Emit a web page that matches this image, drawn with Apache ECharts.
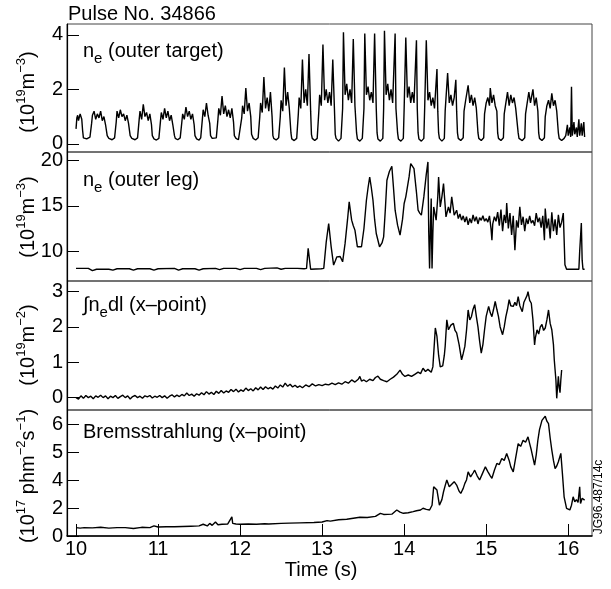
<!DOCTYPE html>
<html>
<head>
<meta charset="utf-8">
<script src="https://cdn.jsdelivr.net/npm/echarts@6/dist/echarts.min.js"></script>
<style>html,body{margin:0;padding:0;background:#fff}#c{width:611px;height:589px}</style>
</head>
<body>
<div id="c"></div>
<script>
// ---------- data (time in s, value in axis units) ----------
const timeTicks = [10, 11, 12, 13, 14, 15, 16];
const outerTargetTicks = [0, 2, 4];
const outerLegTicks = [10, 15, 20];
const xpointDensityTicks = [0, 1, 2, 3];
const bremsTickPositions = [0, 1, 2, 3, 4];
const bremsTickLabels = ['0', '2', '4', '5', '6'];

const outerTarget = [
[10.00,0.55],[10.01,0.95],[10.02,1.05],[10.03,0.85],[10.05,1.1],[10.07,0.9],[10.08,0.5],
[10.09,0.22],[10.13,0.18],[10.17,0.25],
[10.19,0.75],[10.20,1.05],[10.22,1.2],[10.24,0.9],[10.26,1.1],[10.28,0.95],[10.30,1.2],[10.32,0.85],[10.34,1.0],[10.36,0.7],[10.38,0.3],
[10.40,0.2],[10.44,0.15],[10.47,0.22],
[10.49,0.8],[10.50,1.2],[10.52,0.95],[10.54,1.25],[10.56,1.0],[10.58,1.1],[10.60,0.85],[10.62,1.05],[10.64,0.75],[10.66,0.3],
[10.68,0.2],[10.72,0.15],[10.75,0.22],
[10.77,0.9],[10.78,1.2],[10.80,0.9],[10.82,1.45],[10.84,1.0],[10.86,1.15],[10.88,0.85],[10.90,1.1],[10.92,0.7],[10.93,0.3],
[10.95,0.18],[10.98,0.14],[11.01,0.2],
[11.03,0.85],[11.04,1.15],[11.06,0.9],[11.08,1.3],[11.10,0.95],[11.12,1.2],[11.14,0.85],[11.16,1.05],[11.18,0.7],[11.20,0.3],
[11.21,0.2],[11.24,0.15],[11.27,0.22],
[11.29,0.8],[11.30,1.1],[11.32,0.9],[11.34,1.35],[11.36,1.0],[11.38,1.2],[11.40,0.9],[11.42,1.1],[11.44,0.7],[11.45,0.3],
[11.47,0.18],[11.50,0.14],[11.52,0.22],
[11.54,0.9],[11.55,1.25],[11.57,1.0],[11.59,1.5],[11.61,1.05],[11.63,0.75],[11.64,0.3],
[11.66,0.2],[11.68,0.15],[11.71,0.22],
[11.73,0.9],[11.74,1.3],[11.76,1.05],[11.78,1.75],[11.80,1.1],[11.82,1.4],[11.84,1.0],[11.86,1.25],[11.88,0.95],[11.90,1.3],[11.92,0.8],[11.93,0.3],
[11.95,0.2],[11.98,0.15],[12.00,0.22],
[12.02,0.95],[12.03,1.4],[12.05,1.1],[12.07,2.05],[12.09,1.2],[12.11,1.5],[12.13,1.0],[12.14,0.35],
[12.16,0.2],[12.19,0.14],[12.22,0.22],
[12.24,1.0],[12.25,1.5],[12.27,1.15],[12.29,2.45],[12.31,1.3],[12.33,1.7],[12.35,1.2],[12.37,1.9],[12.39,1.0],[12.40,0.3],
[12.41,0.2],[12.44,0.14],[12.47,0.22],
[12.49,1.0],[12.50,1.6],[12.52,1.2],[12.54,2.8],[12.56,1.4],[12.58,1.9],[12.60,1.3],[12.62,0.4],
[12.63,0.18],[12.66,0.12],[12.69,0.2],
[12.71,1.1],[12.72,1.7],[12.74,1.3],[12.76,3.1],[12.78,1.5],[12.80,2.0],[12.82,1.4],[12.84,3.3],[12.86,1.2],[12.87,0.35],
[12.88,0.2],[12.91,0.12],[12.94,0.2],
[12.96,1.2],[12.97,1.8],[12.99,1.4],[13.01,3.65],[13.03,1.6],[13.05,2.0],[13.07,1.5],[13.09,1.9],[13.11,1.4],[13.13,3.1],[13.15,1.3],[13.16,0.35],
[13.17,0.2],[13.20,0.1],[13.23,0.2],
[13.25,1.3],[13.26,4.1],[13.28,1.8],[13.30,2.2],[13.32,1.6],[13.34,2.0],[13.36,1.5],[13.38,3.85],[13.40,1.4],[13.42,0.4],
[13.43,0.18],[13.46,0.1],[13.49,0.2],
[13.51,1.3],[13.52,4.05],[13.54,1.8],[13.56,2.1],[13.58,1.6],[13.60,1.9],[13.62,1.5],[13.64,4.05],[13.66,1.3],[13.67,0.4],
[13.68,0.18],[13.71,0.1],[13.74,0.2],
[13.75,1.3],[13.76,4.15],[13.78,1.8],[13.80,2.2],[13.82,1.6],[13.84,2.0],[13.86,1.5],[13.89,4.05],[13.90,1.3],[13.92,0.4],
[13.93,0.18],[13.96,0.1],[13.99,0.2],
[14.00,1.3],[14.02,3.9],[14.04,1.7],[14.06,2.1],[14.08,1.5],[14.10,1.9],[14.12,1.5],[14.15,3.8],[14.16,1.3],[14.17,0.4],
[14.18,0.18],[14.21,0.1],[14.24,0.2],
[14.25,1.3],[14.27,3.8],[14.29,1.6],[14.31,1.9],[14.33,1.4],[14.35,1.7],[14.37,1.3],[14.40,2.75],[14.41,1.2],[14.42,0.4],
[14.43,0.2],[14.46,0.1],[14.49,0.2],
[14.50,1.2],[14.53,2.6],[14.55,1.5],[14.57,1.8],[14.59,1.4],[14.61,1.7],[14.63,2.35],[14.64,1.2],[14.65,0.4],
[14.66,0.2],[14.69,0.12],[14.72,0.22],
[14.73,1.2],[14.75,1.6],[14.78,2.15],[14.80,1.5],[14.82,1.8],[14.84,1.4],[14.86,1.7],[14.88,1.3],[14.90,0.4],
[14.91,0.2],[14.94,0.12],[14.97,0.22],
[14.98,1.1],[15.00,1.5],[15.02,1.7],[15.04,1.4],[15.05,2.05],[15.07,1.5],[15.09,1.8],[15.11,1.4],[15.13,1.2],[15.14,0.4],
[15.15,0.2],[15.18,0.12],[15.21,0.22],
[15.22,1.1],[15.24,1.5],[15.26,1.9],[15.28,1.4],[15.30,1.8],[15.32,1.5],[15.34,1.7],[15.36,1.3],[15.39,0.4],
[15.40,0.2],[15.44,0.12],[15.47,0.22],
[15.48,1.1],[15.50,1.5],[15.52,1.9],[15.54,1.5],[15.57,2.0],[15.59,1.4],[15.61,1.7],[15.63,1.2],[15.64,0.4],
[15.65,0.2],[15.68,0.12],[15.71,0.22],
[15.72,1.0],[15.74,1.4],[15.76,1.6],[15.78,1.3],[15.80,1.85],[15.82,1.4],[15.84,1.6],[15.86,1.2],[15.88,0.4],
[15.89,0.2],[15.92,0.12],[15.95,0.2],
[15.97,0.3],[15.99,0.7],[16.00,0.3],[16.02,0.6],[16.03,0.25],[16.04,2.1],[16.05,0.3],[16.07,0.8],[16.08,0.35],[16.10,0.6],[16.11,0.25],[16.13,0.9],[16.14,0.3],[16.16,0.75],[16.17,0.3],[16.19,0.8],[16.20,0.25]
];

const outerLeg = [
[10.00,8.1],[10.15,8.1],[10.20,7.85],[10.25,8.0],[10.40,8.0],[10.45,7.9],[10.50,8.05],[10.65,8.05],[10.70,7.9],[10.75,8.05],
[10.90,8.05],[10.95,7.9],[11.00,8.05],[11.20,8.1],[11.25,7.9],[11.30,8.05],[11.45,8.05],[11.50,7.9],[11.55,8.05],[11.70,8.1],
[11.75,7.95],[11.80,8.1],[11.95,8.1],[12.00,7.95],[12.05,8.1],[12.20,8.1],[12.25,7.95],[12.30,8.1],[12.45,8.15],[12.50,8.0],
[12.55,8.1],[12.70,8.1],[12.78,8.05],[12.81,8.1],[12.83,10.3],[12.86,8.0],[12.99,8.05],[13.02,8.1],[13.05,11.0],[13.08,13.05],
[13.11,10.5],[13.14,8.46],[13.16,8.9],[13.18,9.37],[13.22,9.4],[13.24,9.56],[13.25,8.82],[13.28,10.85],[13.31,13.5],[13.33,15.44],
[13.36,13.42],[13.38,12.8],[13.40,12.32],[13.43,10.48],[13.48,10.48],[13.51,12.5],[13.54,15.62],[13.56,17.0],[13.58,18.19],[13.60,17.0],
[13.62,15.62],[13.64,13.5],[13.66,11.95],[13.70,10.48],[13.73,10.9],[13.75,11.58],[13.77,14.5],[13.79,17.83],[13.82,18.8],[13.85,19.37],
[13.87,17.0],[13.89,14.52],[13.92,12.87],[13.95,11.76],[13.98,13.5],[14.00,15.26],[14.02,16.0],[14.04,17.09],[14.06,18.2],[14.08,19.67],
[14.10,19.6],[14.12,19.12],[14.15,16.5],[14.17,14.52],[14.19,14.2],[14.21,13.97],[14.24,15.99],[14.27,18.5],[14.29,19.85],[14.30,12.0],
[14.31,8.09],[14.32,12.5],[14.33,15.81],[14.335,11.0],[14.34,8.09],[14.35,12.0],[14.36,14.88],[14.39,13.42],[14.41,16.0],[14.42,18.19],
[14.44,14.88],[14.46,16.0],[14.48,17.46],[14.51,13.78],[14.54,14.88],[14.56,14.2],[14.58,15.99],[14.61,13.97],[14.64,14.52],[14.66,13.6],
[14.68,14.1],[14.70,13.42],[14.72,13.9],[14.74,13.2],[14.76,13.8],[14.78,12.9],[14.80,13.6],[14.82,13.1],[14.84,14.0],[14.86,13.3],
[14.88,13.8],[14.90,13.0],[14.92,13.7],[14.94,13.4],[14.96,13.9],[14.98,13.3],[15.00,13.6],[15.02,13.2],[15.04,13.9],[15.06,12.4],
[15.07,11.2],[15.08,13.0],[15.10,13.8],[15.12,13.3],[15.14,14.3],[15.16,12.8],[15.18,14.6],[15.20,12.2],[15.22,14.0],[15.24,13.1],
[15.25,15.3],[15.27,12.5],[15.29,14.2],[15.31,11.8],[15.33,13.9],[15.35,10.1],[15.37,13.4],[15.39,12.6],[15.41,14.9],[15.43,12.9],
[15.45,13.8],[15.47,12.2],[15.49,13.6],[15.51,13.0],[15.53,13.9],[15.55,13.1],[15.57,13.4],[15.59,12.8],[15.61,14.2],[15.63,13.2],
[15.65,13.7],[15.67,12.6],[15.69,13.9],[15.71,11.2],[15.72,14.7],[15.74,12.5],[15.76,13.6],[15.78,11.4],[15.80,14.3],[15.82,12.2],
[15.84,13.5],[15.86,11.8],[15.88,14.0],[15.90,12.6],[15.92,13.2],[15.94,14.2],[15.96,8.5],[15.98,8.0],[16.13,8.0],[16.14,10.0],
[16.16,13.1],[16.17,9.0],[16.18,8.0],[16.20,8.0]
];

const xpointDensity = [
[10.00,0.0],[10.03,-0.04],[10.06,0.05],[10.09,-0.02],[10.12,0.06],[10.15,0.0],[10.18,0.04],[10.21,-0.03],[10.24,0.05],[10.27,0.01],
[10.30,0.07],[10.33,0.0],[10.36,0.05],[10.39,-0.03],[10.42,0.04],[10.45,0.0],[10.48,0.06],[10.51,-0.02],[10.54,0.03],[10.57,0.07],
[10.60,0.0],[10.63,0.05],[10.66,-0.04],[10.69,0.03],[10.72,0.06],[10.75,0.0],[10.78,0.04],[10.81,-0.02],[10.84,0.05],[10.87,0.02],
[10.90,0.06],[10.93,-0.01],[10.96,0.04],[10.99,0.01],[11.02,0.06],[11.05,0.0],[11.08,0.05],[11.11,-0.02],[11.14,0.04],[11.17,0.08],
[11.20,0.02],[11.23,0.07],[11.26,0.03],[11.29,0.09],[11.32,0.05],[11.35,0.13],[11.38,0.06],[11.41,0.1],[11.44,0.04],[11.47,0.11],
[11.50,0.07],[11.53,0.14],[11.56,0.08],[11.59,0.17],[11.62,0.1],[11.65,0.15],[11.68,0.09],[11.71,0.18],[11.74,0.12],[11.77,0.2],
[11.80,0.13],[11.83,0.19],[11.86,0.15],[11.89,0.23],[11.92,0.17],[11.95,0.24],[11.98,0.16],[12.01,0.22],[12.04,0.18],[12.07,0.27],
[12.10,0.2],[12.13,0.25],[12.16,0.19],[12.19,0.28],[12.22,0.22],[12.25,0.3],[12.28,0.23],[12.31,0.31],[12.34,0.25],[12.37,0.29],
[12.40,0.24],[12.43,0.33],[12.46,0.27],[12.49,0.36],[12.52,0.3],[12.55,0.41],[12.58,0.32],[12.61,0.38],[12.64,0.3],[12.67,0.35],
[12.70,0.29],[12.73,0.33],[12.76,0.28],[12.80,0.36],[12.84,0.31],[12.88,0.39],[12.92,0.33],[12.96,0.37],[13.00,0.34],[13.04,0.38],
[13.08,0.36],[13.12,0.41],[13.16,0.37],[13.20,0.42],[13.24,0.38],[13.28,0.45],[13.32,0.41],[13.36,0.5],[13.40,0.44],[13.44,0.52],
[13.46,0.6],[13.48,0.47],[13.51,0.5],[13.54,0.45],[13.58,0.52],[13.62,0.48],[13.65,0.57],[13.68,0.61],[13.71,0.52],[13.75,0.48],
[13.79,0.45],[13.83,0.52],[13.87,0.58],[13.91,0.66],[13.95,0.78],[13.98,0.66],[14.01,0.6],[14.05,0.64],[14.09,0.6],[14.13,0.66],
[14.17,0.72],[14.20,0.68],[14.23,0.83],[14.26,0.74],[14.29,0.8],[14.31,0.78],[14.33,0.72],[14.35,0.87],[14.37,1.6],[14.38,1.97],
[14.40,1.73],[14.42,1.2],[14.44,0.87],[14.47,0.9],[14.49,1.2],[14.50,1.45],[14.52,2.2],[14.54,1.92],[14.57,2.05],[14.60,2.1],
[14.62,1.9],[14.64,1.83],[14.67,1.5],[14.70,1.07],[14.72,1.25],[14.74,1.45],[14.76,1.9],[14.78,2.48],[14.80,2.2],[14.82,2.29],
[14.84,2.5],[14.86,2.63],[14.88,2.3],[14.90,2.0],[14.92,1.6],[14.94,1.26],[14.96,1.5],[14.98,1.92],[15.00,2.3],[15.03,2.58],
[15.05,2.4],[15.07,2.29],[15.09,2.5],[15.11,2.72],[15.13,2.5],[15.15,2.29],[15.17,2.0],[15.20,1.78],[15.22,2.0],[15.24,2.29],
[15.26,2.5],[15.28,2.77],[15.30,2.6],[15.33,2.58],[15.35,2.7],[15.37,2.6],[15.39,2.86],[15.41,2.6],[15.44,2.43],[15.46,2.7],
[15.48,2.8],[15.50,2.9],[15.51,3.0],[15.53,2.75],[15.55,2.67],[15.57,2.2],[15.59,1.49],[15.60,1.7],[15.62,1.92],[15.64,1.8],
[15.66,2.0],[15.68,2.07],[15.70,1.9],[15.72,1.97],[15.74,2.2],[15.76,2.48],[15.78,2.1],[15.80,1.92],[15.82,1.5],[15.83,1.07],
[15.85,0.5],[15.86,-0.02],[15.87,0.3],[15.88,0.6],[15.89,0.3],[15.90,0.14],[15.91,0.5],[15.92,0.78]
];

// Bremsstrahlung values in tick-position units (ticks labelled 0,2,4,5,6)
const bremsstrahlung = [
[10.00,0.3],[10.05,0.28],[10.10,0.3],[10.20,0.29],[10.30,0.31],[10.40,0.28],[10.50,0.3],[10.60,0.3],[10.70,0.27],[10.80,0.31],
[10.90,0.3],[10.95,0.36],[11.00,0.32],[11.10,0.33],[11.20,0.33],[11.30,0.34],[11.40,0.35],[11.50,0.36],[11.55,0.42],[11.60,0.36],
[11.63,0.45],[11.66,0.38],[11.70,0.5],[11.73,0.4],[11.78,0.42],[11.85,0.43],[11.90,0.68],[11.91,0.45],[11.95,0.43],[12.00,0.42],
[12.10,0.43],[12.20,0.42],[12.30,0.44],[12.32,0.5],[12.35,0.43],[12.50,0.45],[12.60,0.46],[12.73,0.47],[12.90,0.48],[13.00,0.5],
[13.06,0.55],[13.10,0.53],[13.20,0.58],[13.22,0.63],[13.30,0.6],[13.46,0.67],[13.55,0.66],[13.65,0.7],[13.71,0.81],[13.75,0.77],
[13.85,0.78],[13.91,0.93],[13.95,0.85],[13.99,0.81],[14.05,0.83],[14.11,0.87],[14.15,0.9],[14.20,0.93],[14.23,0.99],[14.27,0.95],
[14.31,0.93],[14.34,1.1],[14.36,1.76],[14.38,1.7],[14.40,1.64],[14.43,1.1],[14.46,1.3],[14.48,1.58],[14.50,1.8],[14.52,2.0],
[14.55,1.76],[14.58,1.85],[14.61,1.94],[14.64,1.82],[14.67,1.6],[14.69,1.52],[14.72,1.7],[14.74,1.88],[14.76,2.0],[14.78,2.29],
[14.81,2.11],[14.84,2.25],[14.86,2.35],[14.89,2.15],[14.92,2.0],[14.95,2.2],[14.99,2.47],[15.02,2.3],[15.05,2.15],[15.07,2.06],
[15.10,2.35],[15.13,2.59],[15.16,2.55],[15.19,2.77],[15.22,2.7],[15.25,2.95],[15.28,2.7],[15.30,2.47],[15.33,2.29],[15.36,2.8],
[15.39,3.3],[15.42,3.2],[15.45,3.42],[15.48,3.35],[15.51,3.54],[15.53,3.3],[15.55,3.07],[15.57,2.8],[15.59,2.53],[15.61,2.9],
[15.63,3.42],[15.65,3.8],[15.68,4.13],[15.70,4.2],[15.72,4.28],[15.74,4.1],[15.76,4.01],[15.78,3.5],[15.80,3.07],[15.82,2.7],
[15.84,2.41],[15.86,2.5],[15.88,2.65],[15.91,2.95],[15.93,2.2],[15.95,1.4],[15.98,0.99],[16.00,0.95],[16.02,0.93],[16.04,1.1],
[16.06,1.4],[16.08,1.22],[16.10,1.3],[16.12,1.2],[16.14,1.76],[16.15,1.16],[16.17,1.35],[16.20,1.28]
];

// ---------- chart ----------
const FONT = "'Liberation Sans', Arial, Helvetica, sans-serif";
const chart = echarts.init(document.getElementById('c'), null, {renderer: 'canvas'});

const gridBoxes = [
  {top: 24, height: 128},
  {top: 152, height: 129},
  {top: 281, height: 129},
  {top: 410, height: 126}
];
const yRanges = [[-0.3, 4.4], [6.7, 20.95], [-0.35, 3.3], [0, 4.5]];
const yTickSets = [outerTargetTicks, outerLegTicks, xpointDensityTicks, bremsTickPositions];
const seriesData = [outerTarget, outerLeg, xpointDensity, bremsstrahlung];

const grid = gridBoxes.map(g => ({
  left: 67, width: 525, top: g.top, height: g.height,
  show: true, borderColor: '#444', borderWidth: 1, backgroundColor: 'transparent',
  containLabel: false
}));

const xAxis = gridBoxes.map((g, i) => {
  const last = i === 3;
  return {
    type: 'value', gridIndex: i, min: 9.89, max: 16.29,
    axisLine: {show: last, onZero: false, lineStyle: {color: '#000', width: 1.5}},
    axisTick: {show: last, inside: true, length: 12, customValues: timeTicks, lineStyle: {color: '#000', width: 1}},
    axisLabel: {show: last, customValues: timeTicks, margin: 3, fontSize: 20, color: '#000', fontFamily: FONT},
    splitLine: {show: false}
  };
});

const yAxis = gridBoxes.map((g, i) => ({
  type: 'value', gridIndex: i, min: yRanges[i][0], max: yRanges[i][1],
  axisLine: {show: true, onZero: false, lineStyle: {color: '#000', width: 1.2}},
  axisTick: {show: true, inside: true, length: 12, customValues: yTickSets[i], lineStyle: {color: '#000', width: 1}},
  axisLabel: {
    customValues: yTickSets[i], margin: 4, fontSize: 20, color: '#000', fontFamily: FONT,
    formatter: i === 3 ? (v => bremsTickLabels[Math.round(v)]) : (v => String(v))
  },
  splitLine: {show: false}
}));

const series = seriesData.map((d, i) => ({
  type: 'line', xAxisIndex: i, yAxisIndex: i, data: d,
  showSymbol: false, symbol: 'none', animation: false,
  lineStyle: {color: '#000', width: 1.4}
}));

function panelLabel(y, text) {
  return {
    type: 'text', x: 83, y: y, z: 100,
    style: {
      text: text, fontFamily: FONT, fontSize: 20, lineHeight: 30, fill: '#000',
      align: 'left', verticalAlign: 'middle',
      rich: {e: {fontFamily: FONT, fontSize: 15, lineHeight: 15, verticalAlign: 'bottom', fill: '#000'}}
    }
  };
}
function yName(y, text) {
  return {
    type: 'text', x: 28, y: y, rotation: Math.PI / 2, z: 100,
    style: {
      text: text, fontFamily: FONT, fontSize: 20, lineHeight: 26, fill: '#000',
      align: 'center', verticalAlign: 'middle',
      rich: {s: {fontFamily: FONT, fontSize: 13, lineHeight: 13, verticalAlign: 'top', fill: '#000'}}
    }
  };
}

const graphic = [
  {type: 'text', x: 68, y: 14, z: 100, style: {text: 'Pulse No. 34866', fontFamily: FONT, fontSize: 20, fill: '#000', align: 'left', verticalAlign: 'middle'}},
  panelLabel(51, 'n{e|e} (outer target)'),
  panelLabel(180, 'n{e|e} (outer leg)'),
  panelLabel(305, '∫n{e|e}dl (x–point)'),
  panelLabel(432, 'Bremsstrahlung (x–point)'),
  yName(92, '(10{s|19}m{s|−3})'),
  yName(217, '(10{s|19}m{s|−3})'),
  yName(345, '(10{s|19}m{s|−2})'),
  yName(476, '(10{s|17} phm{s|−2}s{s|−1})'),
  {type: 'text', x: 321, y: 570, z: 100, style: {text: 'Time (s)', fontFamily: FONT, fontSize: 20, fill: '#000', align: 'center', verticalAlign: 'middle'}},
  {type: 'text', x: 599, y: 497, rotation: Math.PI / 2, z: 100, style: {text: 'JG96.487/14c', fontFamily: FONT, fontSize: 12, fill: '#000', align: 'center', verticalAlign: 'middle'}}
];

chart.setOption({
  animation: false,
  backgroundColor: '#fff',
  grid: grid, xAxis: xAxis, yAxis: yAxis, series: series, graphic: graphic
});
</script>
</body>
</html>
